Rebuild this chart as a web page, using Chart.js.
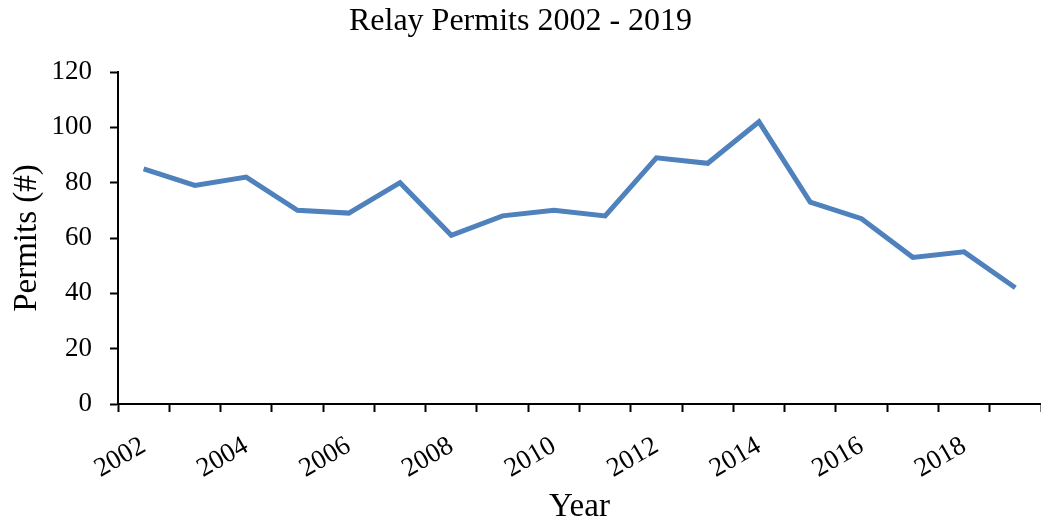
<!DOCTYPE html>
<html>
<head>
<meta charset="utf-8">
<script src="https://cdn.jsdelivr.net/npm/chart.js@4"></script>
<style>
  html, body { margin: 0; padding: 0; background: #fff; }
  #wrap { width: 1041px; height: 525px; }
</style>
</head>
<body>
<div id="wrap"><canvas id="myChart"></canvas></div>
<script>
const years = ['2002','2003','2004','2005','2006','2007','2008','2009','2010',
  '2011','2012','2013','2014','2015','2016','2017','2018','2019'];
const permits = [85, 79, 82, 70, 69, 80, 61, 68, 70, 68, 89, 87, 102, 73, 67, 53, 55, 42];
const yTicks = [0, 20, 40, 60, 80, 100, 120];

const serif = "'Liberation Serif', 'Times New Roman', serif";

const ctx = document.getElementById("myChart");

new Chart(ctx, {
    type: "line",
    data: {
        labels: years,
        datasets: [
            {
                label: "Permits",
                data: permits,
                borderColor: "rgb(79, 129, 189)",
                backgroundColor: "rgb(79, 129, 189)",
                borderWidth: 5,
                pointRadius: 0,
                tension: 0,
            },
        ],
    },
    options: {
        responsive: true,
        maintainAspectRatio: false,
        animation: false,
        layout: { padding: { left: 0, right: 0, top: 0, bottom: 0 } },
        scales: {
            x: {
                offset: true,
                grid: {
                    offset: true,
                    drawOnChartArea: false,
                    drawTicks: true,
                    tickLength: 8,
                    tickWidth: 2,
                    tickColor: '#000',
                },
                border: { display: true, color: '#000', width: 2 },
                ticks: {
                    autoSkip: false,
                    minRotation: 30,
                    maxRotation: 30,
                    color: '#000',
                    padding: 18,
                    font: { family: serif, size: 27 },
                    callback: function (value, index) {
                        return index % 2 === 0 ? years[index] : '';
                    },
                },
                title: {
                    display: true,
                    text: 'Year',
                    color: '#000',
                    font: { family: serif, size: 33, lineHeight: 1.1 },
                    padding: { top: 0, bottom: 0 },
                },
                afterFit: function (s) {
                    s.height = 121;
                    s.paddingLeft = 0;
                    s.paddingRight = 0;
                },
            },
            y: {
                min: 0,
                max: 120,
                afterBuildTicks: function (s) {
                    s.ticks = yTicks.map(v => ({ value: v }));
                },
                grid: {
                    drawOnChartArea: false,
                    drawTicks: true,
                    tickLength: 8,
                    tickWidth: 2,
                    tickColor: '#000',
                },
                border: { display: true, color: '#000', width: 2 },
                ticks: {
                    color: '#000',
                    padding: 18,
                    font: { family: serif, size: 27 },
                },
                title: {
                    display: true,
                    text: 'Permits (#)',
                    color: '#000',
                    font: { family: serif, size: 33 },
                    padding: { top: 8, bottom: 4 },
                },
                afterFit: function (s) { s.width = 118; },
            },
        },
        plugins: {
            legend: { display: false },
            tooltip: { enabled: false },
            title: {
                display: true,
                text: "Relay Permits 2002 - 2019",
                color: '#000',
                font: { family: serif, size: 32, weight: "normal" },
                padding: { top: 2, bottom: 31.6 },
            },
        },
    },
});
</script>
</body>
</html>
